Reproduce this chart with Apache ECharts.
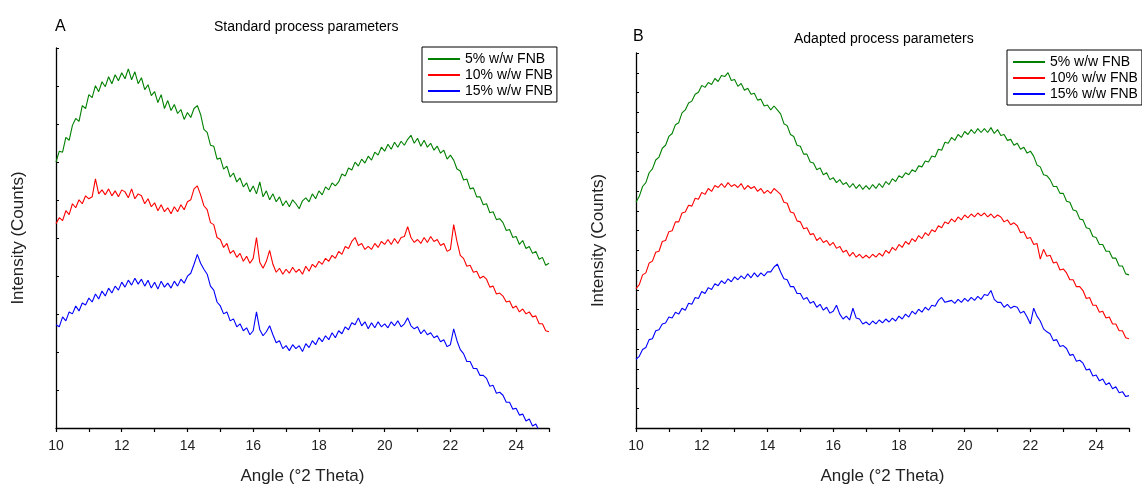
<!DOCTYPE html>
<html>
<head>
<meta charset="utf-8">
<script src="https://cdn.jsdelivr.net/npm/echarts@6/dist/echarts.min.js"></script>
<style>
html,body{margin:0;padding:0;background:#fff;}
#chart{width:1142px;height:490px;}
</style>
</head>
<body>
<div id="chart"></div>
<script>
// Sampling grid of the diffractograms (°2θ)
const ANGLE_START = 10;
const ANGLE_STEP = 0.1;
const ANGLE_COUNT = 151;

const seriesNames = ['5% w/w FNB', '10% w/w FNB', '15% w/w FNB'];
const panelTitles = ['Standard process parameters', 'Adapted process parameters'];
const panelLetters = ['A', 'B'];
const xTickLabels = [10, 12, 14, 16, 18, 20, 22, 24];

// Panel A — standard process parameters (arbitrary counts)
const stdFNB5 = [268, 279,278,293,290,305, 312,309,325,322,336, 333,345,339,349,344, 354,347,356,350,358, 352,362,351,359,347, 353,341,346,335,339, 328,336,322,330,320, 326,317,321,311,318, 313,322,325,316,301, 298,285,284,271,272, 261,264,253,257,248, 252,243,247,238,244, 236,248,233,239,230, 236,228,233,224,229, 223,230,226,221,229, 232,228,236,231,239, 235,243,240,247,244, 248,256,254,262,260, 268,264,271,267,274, 270,278,275,283,279, 286,281,288,283,289, 285,291,295,287,292, 284,290,283,287,280, 284,277,280,271,275, 270,261,259,250,251, 241,242,233,233,225, 226,217,218,210,211, 207,199,200,192,193, 185,189,181,183,176, 178,170,172,164,166];
const stdFNB10 = [206, 212,209,219,215,226, 222,230,226,234,231, 233,251,236,240,235, 241,234,239,233,240, 238,232,241,231,236, 234,226,231,223,227, 219,225,218,222,216, 223,218,225,220,228, 230,241,244,235,224, 220,207,205,192,190, 182,186,176,179,172, 176,168,173,166,171, 192,167,161,168,179, 165,157,161,155,160, 156,162,157,160,155, 163,158,165,162,168, 165,171,168,174,171, 178,175,183,181,188, 192,184,186,180,183, 180,186,182,188,185, 190,185,191,186,192, 193,203,192,187,190, 186,192,187,193,188, 190,184,186,178,180, 205,188,174,171,163, 164,157,158,151,153, 150,142,143,135,136, 133,127,128,121,123, 117,120,115,117,112, 113,105,105,98,97];
const stdFNB15 = [104, 102,112,108,117,115, 123,118,126,124,131, 127,135,130,138,133, 141,136,143,139,147, 142,149,144,151,145, 150,143,149,141,147, 140,148,142,146,141, 148,143,150,146,153, 156,165,175,166,160, 155,143,139,127,123, 115,117,108,110,102, 105,98,101,94,98, 117,99,93,97,103, 94,86,88,80,83, 78,84,80,83,77, 85,81,88,84,91, 87,93,89,96,91, 98,95,102,99,106, 104,111,103,107,100, 106,101,107,102,105, 101,107,103,108,102, 105,111,103,100,102, 95,99,94,96,91, 93,87,89,82,84, 100,88,79,75,67, 67,60,60,53,53, 50,42,43,35,36, 33,26,26,19,20, 13,14,7,9,2, 4,-3,-4,-10,-11];

// Panel B — adapted process parameters (arbitrary counts)
const adpFNB5 = [230, 236,246,250,260,264, 273,276,285,288,297, 300,309,311,321,324, 331,333,340,342,349, 347,352,350,356,353, 359,358,362,354,355, 348,351,344,346,340, 341,334,335,328,329, 324,328,324,320,310, 308,299,297,288,287, 279,279,271,270,263, 265,258,260,253,255, 250,253,248,250,245, 249,244,248,243,247, 243,248,244,249,245, 251,248,254,251,257, 255,260,258,263,261, 267,266,272,271,277, 276,284,283,291,290, 296,293,299,296,302, 299,304,300,305,301, 305,301,306,300,304, 298,299,293,294,288, 290,284,286,280,282, 277,268,266,258,257, 253,246,246,239,239, 231,230,222,221,213, 212,204,203,195,194, 187,187,180,180,173, 173,165,165,157,156];
const adpFNB10 = [142, 146,156,158,168,170, 179,180,190,191,200, 201,210,210,219,220, 227,226,234,233,240, 238,244,241,247,245, 249,245,250,246,248, 245,249,243,247,244, 246,241,244,239,242, 239,244,241,238,230, 229,220,219,211,210, 203,204,197,198,191, 194,189,191,186,189, 183,185,179,181,175, 179,174,177,173,176, 173,177,174,178,175, 181,178,184,181,187, 184,190,187,193,190, 196,193,199,196,202, 200,206,204,210,208, 213,210,215,212,217, 214,218,215,219,216, 219,215,218,214,217, 215,210,212,207,209, 206,199,200,193,194, 187,188,172,182,175, 176,168,169,161,162, 158,151,151,144,144, 140,132,133,125,125, 118,119,112,113,106, 106,99,99,92,91];
const adpFNB15 = [70, 73,80,82,90,91, 99,100,106,107,113, 112,118,116,122,120, 127,126,133,132,139, 137,143,141,147,145, 150,147,152,149,154, 151,155,152,157,153, 158,154,158,155,159, 159,164,167,159,152, 151,144,144,137,137, 131,133,127,129,123, 126,120,123,117,119, 125,116,111,114,110, 122,112,111,106,108, 105,109,106,110,107, 111,108,112,109,114, 111,116,113,119,116, 121,118,123,120,125, 124,130,133,128,129, 130,127,131,128,132, 129,133,130,134,131, 136,135,140,131,128, 128,123,126,122,124, 123,117,119,113,106, 122,114,109,101,98, 96,89,90,83,84, 81,74,75,68,69, 66,59,60,53,54, 48,50,44,46,40, 42,36,37,32,33];

const angles = [];
for (let i = 0; i < ANGLE_COUNT; i++) angles.push(+(ANGLE_START + i * ANGLE_STEP).toFixed(2));

const colors = ['#008000', '#ff0000', '#0000ff'];
const FONT = 'Liberation Sans, Arial, sans-serif';

function pairs(vals) { return vals.map((v, i) => [angles[i], v]); }

const panelData = [[stdFNB5, stdFNB10, stdFNB15], [adpFNB5, adpFNB10, adpFNB15]];
const yMax = [383, 382];
const yInterval = [38.3, 20.1];

const grids = [
  {left: 56, top: 48, width: 493, height: 383},
  {left: 636, top: 53, width: 493, height: 382}
];

const xAxes = grids.map((g, i) => ({
  type: 'value', gridIndex: i, min: 10, max: 25, interval: 1,
  name: 'Angle (°2 Theta)', nameLocation: 'middle', nameGap: 40,
  nameTextStyle: {fontSize: 17, color: '#222', fontFamily: FONT},
  axisLine: {show: true, onZero: false, lineStyle: {color: '#000', width: 1.3}},
  axisTick: {show: true, inside: false, length: 4, lineStyle: {color: '#000', width: 1.2}},
  axisLabel: {
    fontSize: 14, color: '#222', fontFamily: FONT, margin: 11,
    formatter: v => (xTickLabels.indexOf(v) >= 0 ? String(v) : '')
  },
  splitLine: {show: false}
}));

const yAxes = grids.map((g, i) => ({
  type: 'value', gridIndex: i, min: 0, max: yMax[i], interval: yInterval[i],
  name: 'Intensity (Counts)', nameLocation: 'middle', nameGap: 29,
  nameTextStyle: {fontSize: 17, color: '#222', fontFamily: FONT},
  axisLine: {show: true, lineStyle: {color: '#000', width: 1.3}},
  axisTick: {show: true, inside: true, length: 3, lineStyle: {color: '#000', width: 1}},
  axisLabel: {show: false},
  splitLine: {show: false}
}));

const series = [];
panelData.forEach((set, p) => {
  set.forEach((vals, k) => {
    series.push({
      type: 'line', name: seriesNames[k], xAxisIndex: p, yAxisIndex: p,
      data: pairs(vals), showSymbol: false, symbol: 'none', clip: true,
      lineStyle: {color: colors[k], width: 1.1}, itemStyle: {color: colors[k]},
      animation: false
    });
  });
});

const legendBase = {
  orient: 'vertical', itemWidth: 32, itemHeight: 2, itemGap: 0, icon: 'rect',
  borderColor: '#000', borderWidth: 1, borderRadius: 0, backgroundColor: '#fff',
  padding: [4, 4, 3, 6],
  textStyle: {fontSize: 14, color: '#000', fontFamily: FONT, lineHeight: 16, padding: [0, 0, 0, 0]},
  data: seriesNames, selectedMode: false
};

const titleStyle = (size) => ({fontSize: size, fontWeight: 'normal', color: '#000', fontFamily: FONT});

const option = {
  animation: false,
  backgroundColor: '#fff',
  title: [
    {text: panelLetters[0], left: 55, top: 19, padding: 0, textStyle: titleStyle(16)},
    {text: panelTitles[0], left: 214, top: 20, padding: 0, textStyle: titleStyle(14)},
    {text: panelLetters[1], left: 633, top: 29, padding: 0, textStyle: titleStyle(16)},
    {text: panelTitles[1], left: 794, top: 32, padding: 0, textStyle: titleStyle(14)}
  ],
  legend: [
    Object.assign({}, legendBase, {left: 422, top: 47}),
    Object.assign({}, legendBase, {left: 1007, top: 50})
  ],
  grid: grids,
  xAxis: xAxes,
  yAxis: yAxes,
  series: series
};

const chart = echarts.init(document.getElementById('chart'), null, {renderer: 'canvas'});
chart.setOption(option);
</script>
</body>
</html>
